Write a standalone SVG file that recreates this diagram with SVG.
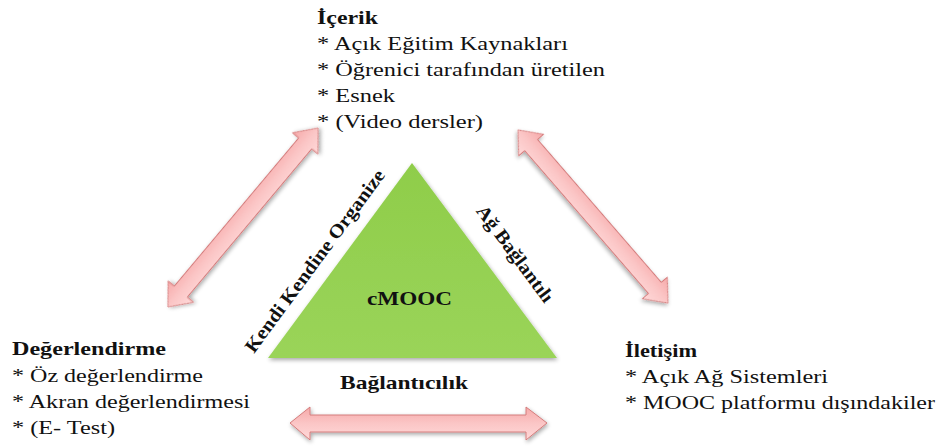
<svg xmlns="http://www.w3.org/2000/svg" width="943" height="448" viewBox="0 0 943 448">
  <defs>
    <linearGradient id="pink" x1="0" y1="0" x2="0" y2="1">
      <stop offset="0" stop-color="#f6a9a9"/>
      <stop offset="0.5" stop-color="#fbc6c6"/>
      <stop offset="1" stop-color="#ffd9d9"/>
    </linearGradient>
    <linearGradient id="green" x1="0" y1="0" x2="0" y2="1">
      <stop offset="0" stop-color="#8fcd4a"/>
      <stop offset="1" stop-color="#9ad459"/>
    </linearGradient>
    <filter id="shadow" x="-10%" y="-10%" width="130%" height="130%">
      <feGaussianBlur in="SourceAlpha" stdDeviation="2"/>
      <feOffset dx="1" dy="2" result="b"/>
      <feComponentTransfer><feFuncA type="linear" slope="0.35"/></feComponentTransfer>
      <feMerge><feMergeNode/><feMergeNode in="SourceGraphic"/></feMerge>
    </filter>
  </defs>
  <style>
    .t { font-family: "Liberation Serif", "Times New Roman", serif; font-size: 19px; fill: #111; }
    .b { font-weight: bold; }
    .arrow { fill: url(#pink); stroke: #d47c7c; stroke-width: 1; filter: url(#shadow); }
  </style>

  <g id="connectors">
    <path class="arrow" transform="translate(243,217.5) rotate(-50)" d="M-116.8,0 L-96.8,-16.5 L-96.8,-8.5 L96.8,-8.5 L96.8,-16.5 L116.8,0 L96.8,16.5 L96.8,8.5 L-96.8,8.5 L-96.8,16.5 Z"/>
    <path class="arrow" transform="translate(593,216.5) rotate(49.1)" d="M-114.5,0 L-94.5,-16.5 L-94.5,-8.5 L94.5,-8.5 L94.5,-16.5 L114.5,0 L94.5,16.5 L94.5,8.5 L-94.5,8.5 L-94.5,16.5 Z"/>
    <path class="arrow" d="M290,423 L310,407 L310,415 L526,415 L526,407 L547,423 L526,440 L526,432 L310,432 L310,440 Z"/>
  </g>

  <g id="cmooc">
    <polygon points="412,163 268,358 557,358" fill="url(#green)" filter="url(#shadow)"/>
    <text class="t b" x="367" y="305" textLength="85" lengthAdjust="spacingAndGlyphs">cMOOC</text>
  </g>

  <g id="kendi">
    <text class="t b" transform="translate(315,261) rotate(-53.6)" x="-111" y="6" textLength="222" lengthAdjust="spacingAndGlyphs">Kendi Kendine Organize</text>
  </g>
  <g id="ag">
    <text class="t b" transform="translate(515,254) rotate(53.4)" x="-58" y="6" textLength="116" lengthAdjust="spacingAndGlyphs">Ağ Bağlantılı</text>
  </g>
  <g id="baglanticilik">
    <text class="t b" x="340" y="389" textLength="128" lengthAdjust="spacingAndGlyphs">Bağlantıcılık</text>
  </g>

  <g id="icerik">
    <text class="t b" x="317" y="24" textLength="61" lengthAdjust="spacingAndGlyphs">İçerik</text>
    <text class="t" x="317" y="50" textLength="251" lengthAdjust="spacingAndGlyphs">* Açık Eğitim Kaynakları</text>
    <text class="t" x="317" y="76" textLength="288" lengthAdjust="spacingAndGlyphs">* Öğrenici tarafından üretilen</text>
    <text class="t" x="317" y="102" textLength="78" lengthAdjust="spacingAndGlyphs">* Esnek</text>
    <text class="t" x="317" y="128" textLength="166" lengthAdjust="spacingAndGlyphs">* (Video dersler)</text>
  </g>

  <g id="degerlendirme">
    <text class="t b" x="12" y="355" textLength="154" lengthAdjust="spacingAndGlyphs">Değerlendirme</text>
    <text class="t" x="12" y="382" textLength="191" lengthAdjust="spacingAndGlyphs">* Öz değerlendirme</text>
    <text class="t" x="12" y="408" textLength="238" lengthAdjust="spacingAndGlyphs">* Akran değerlendirmesi</text>
    <text class="t" x="12" y="434" textLength="103" lengthAdjust="spacingAndGlyphs">* (E- Test)</text>
  </g>

  <g id="iletisim">
    <text class="t b" x="625" y="357" textLength="72" lengthAdjust="spacingAndGlyphs">İletişim</text>
    <text class="t" x="625" y="383" textLength="203" lengthAdjust="spacingAndGlyphs">* Açık Ağ Sistemleri</text>
    <text class="t" x="625" y="409" textLength="310" lengthAdjust="spacingAndGlyphs">* MOOC platformu dışındakiler</text>
  </g>
</svg>
